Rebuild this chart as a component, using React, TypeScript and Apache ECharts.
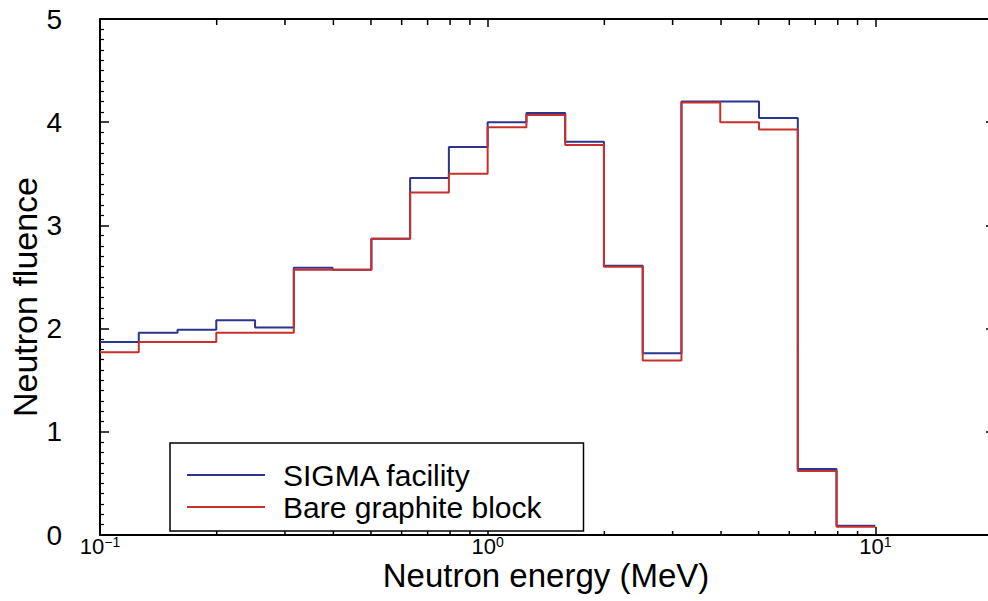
import React, { useEffect, useRef } from 'react';
import * as echarts from 'echarts';

// Bin edges (MeV) (0.1-decade bins)
const binEdges = [
  0.1, 0.1259, 0.1585, 0.1995, 0.2512, 0.3162, 0.3981, 0.5012, 0.631, 0.7943,
  1, 1.259, 1.585, 1.995, 2.512, 3.162, 3.981, 5.012, 6.31, 7.943, 10,
];

// Neutron fluence per bin
const sigmaFacility = [
  1.87, 1.96, 1.99, 2.08, 2.01, 2.59, 2.57, 2.87, 3.46, 3.76,
  4.0, 4.09, 3.81, 2.61, 1.76, 4.2, 4.2, 4.04, 0.64, 0.09,
];
const bareGraphite = [
  1.77, 1.87, 1.87, 1.96, 1.96, 2.57, 2.57, 2.87, 3.32, 3.5,
  3.95, 4.07, 3.78, 2.6, 1.69, 4.19, 4.0, 3.93, 0.62, 0.08,
];

const seriesNames = ['SIGMA facility', 'Bare graphite block'];
const xMinorTicks = [0.2, 0.3, 0.4, 0.5, 0.6, 0.7, 0.8, 0.9, 2, 3, 4, 5, 6, 7, 8, 9];

const xMin = 0.1;
const xMax = 20;
const yMin = 0;
const yMax = 5;

function stepData(vals: number[]) {
  return binEdges.map((e, i) => [e, vals[Math.min(i, vals.length - 1)]]);
}

export default function App() {
  const ref = useRef<HTMLDivElement>(null);
  useEffect(() => {
    document.body.style.margin = '0';
    if (!ref.current) return;
    const chart = echarts.init(ref.current, null, { renderer: 'svg' });
    const font = '"Liberation Sans", Arial, Helvetica, sans-serif';
    const black = '#000';
    chart.setOption({
      animation: false,
      backgroundColor: '#fff',
      grid: { left: 100, top: 19, right: -4, bottom: 66, outerBoundsMode: 'none', containLabel: false },
      xAxis: [
        {
          type: 'log',
          logBase: 10,
          min: xMin,
          max: xMax,
          position: 'bottom',
          axisLine: { show: true, onZero: false, lineStyle: { color: black, width: 2 } },
          axisTick: { show: true, inside: true, length: 8, lineStyle: { color: black, width: 1.5 } },
          splitLine: { show: false },
          axisLabel: {
            show: true,
            margin: 1,
            color: black,
            fontFamily: font,
            formatter: (v: number) => {
              const e = Math.log10(v);
              if (Math.abs(e - Math.round(e)) > 1e-6) return '';
              const r = Math.round(e);
              return '{b|10}{s|' + (r < 0 ? '\u2212' + -r : String(r)) + '}';
            },
            rich: {
              b: { fontSize: 22, lineHeight: 21, fontFamily: font, color: black },
              s: { fontSize: 14, lineHeight: 12, fontFamily: font, color: black, padding: [0, 0, 9, 0] },
            },
          },
          name: 'Neutron energy (MeV)',
          nameLocation: 'middle',
          nameGap: 24,
          nameMoveOverlap: false,
          nameTextStyle: { fontSize: 33, fontFamily: font, color: black },
        },
        {
          type: 'log',
          logBase: 10,
          min: xMin,
          max: xMax,
          position: 'top',
          axisLine: { show: true, onZero: false, lineStyle: { color: black, width: 2 } },
          axisTick: { show: true, inside: true, length: 8, lineStyle: { color: black, width: 1.5 } },
          splitLine: { show: false },
          axisLabel: { show: false },
        },
      ],
      yAxis: [
        {
          type: 'value',
          min: yMin,
          max: yMax,
          interval: 1,
          position: 'left',
          axisLine: { show: true, onZero: false, lineStyle: { color: black, width: 2 } },
          axisTick: { show: true, inside: true, length: 9, lineStyle: { color: black, width: 1.5 } },
          minorTick: { show: true, splitNumber: 10, length: 4, lineStyle: { color: black, width: 1.2 } },
          splitLine: { show: false },
          minorSplitLine: { show: false },
          axisLabel: { fontSize: 28, fontFamily: font, color: black, margin: 38 },
          name: 'Neutron fluence',
          nameLocation: 'middle',
          nameGap: 58,
          nameMoveOverlap: false,
          nameTextStyle: { fontSize: 34, fontFamily: font, color: black, padding: [0, 40, 0, 0] },
        },
        {
          type: 'value',
          min: yMin,
          max: yMax,
          interval: 1,
          position: 'right',
          axisLine: { show: true, onZero: false, lineStyle: { color: black, width: 2 } },
          axisTick: { show: true, inside: true, length: 6, lineStyle: { color: black, width: 1.5 } },
          splitLine: { show: false },
          axisLabel: { show: false },
        },
      ],
      legend: {
        data: seriesNames,
        orient: 'vertical',
        left: 170,
        top: 443,
        padding: [17, 42, 9, 17],
        icon: 'rect',
        itemWidth: 78,
        itemHeight: 2,
        itemGap: 2,
        borderColor: black,
        borderWidth: 1.5,
        backgroundColor: '#fff',
        textStyle: { fontSize: 30, lineHeight: 25, fontFamily: font, color: black, padding: [0, 0, 0, 13] },
      },
      series: [
        {
          name: seriesNames[0],
          type: 'line',
          step: 'end',
          symbol: 'none',
          color: '#2b3590',
          lineStyle: { color: '#2b3590', width: 2 },
          data: stepData(sigmaFacility),
          z: 3,
        },
        {
          name: seriesNames[1],
          type: 'line',
          step: 'end',
          symbol: 'none',
          color: '#c8302c',
          lineStyle: { color: '#c8302c', width: 2 },
          data: stepData(bareGraphite),
          z: 4,
        },
        {
          name: 'minorTicks',
          type: 'custom',
          silent: true,
          clip: false,
          xAxisIndex: 0,
          yAxisIndex: 0,
          data: xMinorTicks.map((v) => [v, 0]),
          renderItem: (_params: any, api: any) => {
            const v = api.value(0);
            const b = api.coord([v, yMin]);
            const t = api.coord([v, yMax]);
            const st = { stroke: black, lineWidth: 1.5 };
            return {
              type: 'group',
              children: [
                { type: 'line', shape: { x1: b[0], y1: b[1], x2: b[0], y2: b[1] - 4 }, style: st },
                { type: 'line', shape: { x1: t[0], y1: t[1], x2: t[0], y2: t[1] + 6 }, style: st },
              ],
            };
          },
          z: 5,
        },
      ],
    });
    return () => chart.dispose();
  }, []);
  return <div ref={ref} style={{ width: 988, height: 601 }} />;
}
